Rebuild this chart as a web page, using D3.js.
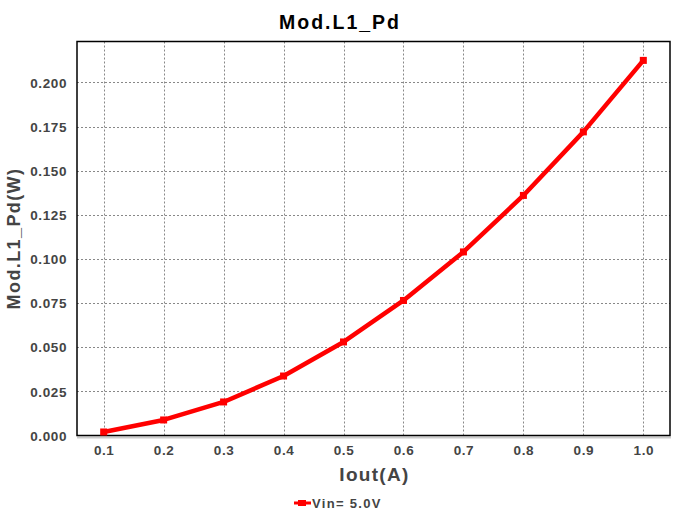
<!DOCTYPE html>
<html><head><meta charset="utf-8">
<script src="https://cdn.jsdelivr.net/npm/d3@7"></script>
<style>body{margin:0;background:#fff}svg{display:block}</style>
</head><body>
<script>
const iout = [0.1,0.2,0.3,0.4,0.5,0.6,0.7,0.8,0.9,1.0];
const pd = [0.0020,0.0088,0.0190,0.0337,0.0530,0.0765,0.1040,0.1360,0.1720,0.2125];
const xTicks = [0.1,0.2,0.3,0.4,0.5,0.6,0.7,0.8,0.9,1.0];
const yTicks = [0,0.025,0.05,0.075,0.1,0.125,0.15,0.175,0.2];
const title = "Mod.L1_Pd", xLabel = "Iout(A)", yLabel = "Mod.L1_Pd(W)", seriesName = "Vin= 5.0V";

const W=678,H=515, L=77,R=670,T=41.5,B=435.5;
const svg=d3.select("body").append("svg").attr("width",W).attr("height",H);
const font="'Liberation Sans', Arial, sans-serif";
const x=d3.scaleLinear().domain([0.0555,1.0445]).range([L,R]);
const y=d3.scaleLinear().domain([0,0.2232]).range([B,T]);

// grid
const g=svg.append("g");
g.selectAll(".gx").data(xTicks).enter().append("line")
 .attr("x1",d=>Math.round(x(d))+0.5).attr("x2",d=>Math.round(x(d))+0.5).attr("y1",T).attr("y2",B)
 .attr("stroke","#888").attr("stroke-dasharray","2,2").attr("stroke-width",1);
g.selectAll(".gy").data(yTicks.slice(1)).enter().append("line")
 .attr("y1",d=>Math.round(y(d))+0.5).attr("y2",d=>Math.round(y(d))+0.5).attr("x1",L).attr("x2",R)
 .attr("stroke","#888").attr("stroke-dasharray","2,2").attr("stroke-width",1);

// frame shadow + frame
svg.append("line").attr("x1",L).attr("x2",R+1).attr("y1",B+2).attr("y2",B+2).attr("stroke","#ccc").attr("stroke-width",2);
svg.append("rect").attr("x",L).attr("y",T).attr("width",R-L).attr("height",B-T)
 .attr("fill","none").attr("stroke","#000").attr("stroke-width",1.5);

// axes labels via d3 axes (no lines)
const xa=svg.append("g").attr("transform",`translate(0,${B})`)
 .call(d3.axisBottom(x).tickValues(xTicks).tickFormat(d3.format(".1f")).tickSize(0).tickPadding(10));
const ya=svg.append("g").attr("transform",`translate(${L},0)`)
 .call(d3.axisLeft(y).tickValues(yTicks).tickFormat(d3.format(".3f")).tickSize(0).tickPadding(10));
[xa,ya].forEach(a=>{a.select(".domain").remove();
 a.selectAll("text").attr("font-family",font).attr("font-weight","bold").attr("font-size",13.5)
  .attr("letter-spacing",0.6).attr("fill","#444");});
ya.selectAll("text").attr("dy","0.35em");

// line
const line=d3.line().x((d,i)=>x(iout[i])).y(d=>y(d));
svg.append("path").datum(pd).attr("d",line).attr("fill","none").attr("stroke","#ff0000").attr("stroke-width",4.5).attr("stroke-linejoin","round");
svg.selectAll(".m").data(pd).enter().append("rect")
 .attr("x",(d,i)=>x(iout[i])-3.5).attr("y",d=>y(d)-3.5).attr("width",7).attr("height",7).attr("fill","#ff0000");

// title & labels
svg.append("text").attr("x",W/2+1).attr("y",28.5).attr("text-anchor","middle")
 .attr("font-family",font).attr("font-weight","bold").attr("font-size",19.5).attr("letter-spacing",2).attr("fill","#000").text(title);
svg.append("text").attr("x",(L+R)/2+1).attr("y",481).attr("text-anchor","middle")
 .attr("font-family",font).attr("font-weight","bold").attr("font-size",19).attr("letter-spacing",1.3).attr("fill","#444").text(xLabel);
svg.append("text").attr("transform",`translate(20,${(T+B)/2}) rotate(-90)`).attr("text-anchor","middle")
 .attr("font-family",font).attr("font-weight","bold").attr("font-size",18).attr("letter-spacing",1.4).attr("fill","#444").text(yLabel);

// legend
const lg=svg.append("g").attr("transform","translate(294,503)");
lg.append("line").attr("x1",0).attr("x2",17).attr("y1",0).attr("y2",0).attr("stroke","#ff0000").attr("stroke-width",3);
lg.append("rect").attr("x",4).attr("y",-3).attr("width",8).attr("height",6).attr("fill","#ff0000");
lg.append("text").attr("x",18).attr("y",5).attr("font-family",font).attr("font-weight","bold").attr("font-size",13).attr("letter-spacing",1.3).attr("fill","#444").text(seriesName);
</script>
</body></html>
